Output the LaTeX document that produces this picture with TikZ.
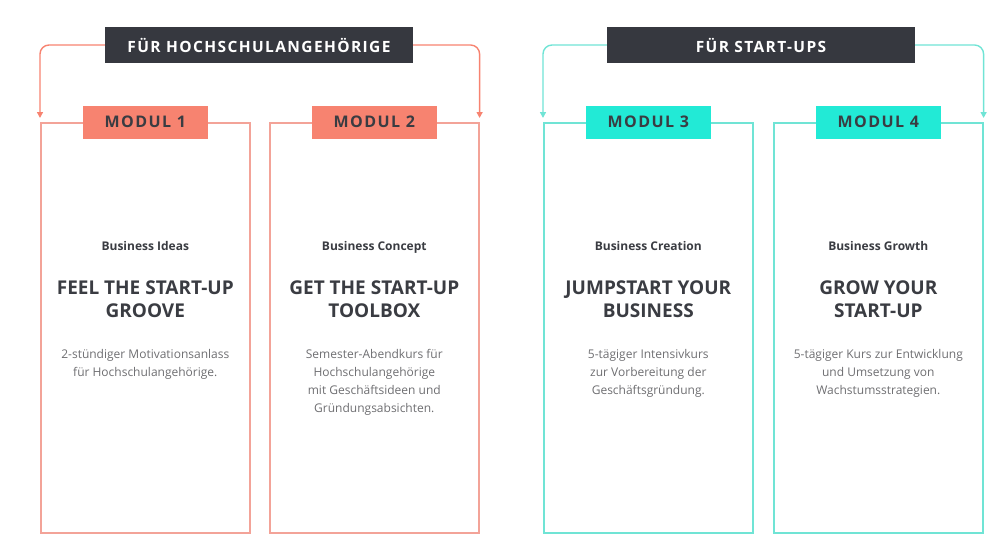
\documentclass[tikz,border=0pt]{standalone}
\usepackage{fontspec}
\setmainfont{Open Sans}
\newfontfamily\spaced[LetterSpace=9]{Open Sans}
\usetikzlibrary{arrows.meta,calc}
\definecolor{salmonfill}{RGB}{247,131,112}
\definecolor{salmonline}{RGB}{243,163,152}
\definecolor{tealfill}{RGB}{34,234,214}
\definecolor{tealline}{RGB}{112,228,213}
\definecolor{darkbox}{RGB}{54,56,63}
\definecolor{textdark}{RGB}{58,60,66}
\definecolor{textgray}{RGB}{110,110,113}
\begin{document}
\begin{tikzpicture}[x=1pt,y=-1pt,
  cardbox/.style={draw, line width=1.6pt, minimum width=209pt, minimum height=410pt, anchor=north west, inner sep=0pt},
  modbox/.style={minimum width=125pt, minimum height=33pt, inner sep=0pt, text=textdark, font=\spaced\fontsize{16}{16}\selectfont\bfseries},
  headbox/.style={fill=darkbox, minimum width=308pt, minimum height=36pt, inner sep=0pt, text=white, font=\spaced\fontsize{15.5}{16}\selectfont\bfseries},
  conn/.style={line width=1.4pt, rounded corners=9pt, -{Triangle[length=6pt,width=6pt]}, shorten >=4pt},
  sublabel/.style={inner sep=0pt, anchor=base, text=textdark, font=\fontsize{12}{13}\selectfont\bfseries},
  titlelabel/.style={inner sep=0pt, align=center, text=textdark, font=\fontsize{19}{23.5}\selectfont\bfseries},
  desclabel/.style={inner sep=0pt, align=center, anchor=north, text=textgray, font=\fontsize{12}{18}\selectfont}
]
\useasboundingbox (0,0) rectangle (999,541);

% cards
\node[cardbox, draw=salmonline] (c1) at (40,122) {};
\node[cardbox, draw=salmonline] (c2) at (269,122) {};
\node[cardbox, draw=tealline] (c3) at (543,122) {};
\node[cardbox, draw=tealline] (c4) at (773,122) {};

% module labels
\node[modbox, fill=salmonfill] (m1) at (c1.north) {MODUL 1};
\node[modbox, fill=salmonfill] (m2) at (c2.north) {MODUL 2};
\node[modbox, fill=tealfill] (m3) at (c3.north) {MODUL 3};
\node[modbox, fill=tealfill] (m4) at (c4.north) {MODUL 4};

% headers
\node[headbox] (h1) at (259,45) {FÜR HOCHSCHULANGEHÖRIGE};
\node[headbox] (h2) at (761,45) {FÜR START-UPS};

% connectors
\draw[conn, draw=salmonfill] (h1.west) -| (c1.north west);
\draw[conn, draw=salmonfill] (h1.east) -| (c2.north east);
\draw[conn, draw=tealline] (h2.west) -| (c3.north west);
\draw[conn, draw=tealline] (h2.east) -| (c4.north east);

% card 1
\node[sublabel] (s1) at ($(c1.north)+(0,128)$) {Business Ideas};
\node[titlelabel] (t1) at ($(c1.north)+(0,177)$) {FEEL THE START-UP\\GROOVE};
\node[desclabel] (d1) at ($(c1.north)+(0,227)$) {2-stündiger Motivationsanlass\\für Hochschulangehörige.};
% card 2
\node[sublabel] (s2) at ($(c2.north)+(0,128)$) {Business Concept};
\node[titlelabel] (t2) at ($(c2.north)+(0,177)$) {GET THE START-UP\\TOOLBOX};
\node[desclabel] (d2) at ($(c2.north)+(0,227)$) {Semester-Abendkurs für\\Hochschulangehörige\\mit Geschäftsideen und\\Gründungsabsichten.};
% card 3
\node[sublabel] (s3) at ($(c3.north)+(0,128)$) {Business Creation};
\node[titlelabel] (t3) at ($(c3.north)+(0,177)$) {JUMPSTART YOUR\\BUSINESS};
\node[desclabel] (d3) at ($(c3.north)+(0,227)$) {5-tägiger Intensivkurs\\zur Vorbereitung der\\Geschäftsgründung.};
% card 4
\node[sublabel] (s4) at ($(c4.north)+(0,128)$) {Business Growth};
\node[titlelabel] (t4) at ($(c4.north)+(0,177)$) {GROW YOUR\\START-UP};
\node[desclabel] (d4) at ($(c4.north)+(0,227)$) {5-tägiger Kurs zur Entwicklung\\und Umsetzung von\\Wachstumsstrategien.};
\end{tikzpicture}
\end{document}
